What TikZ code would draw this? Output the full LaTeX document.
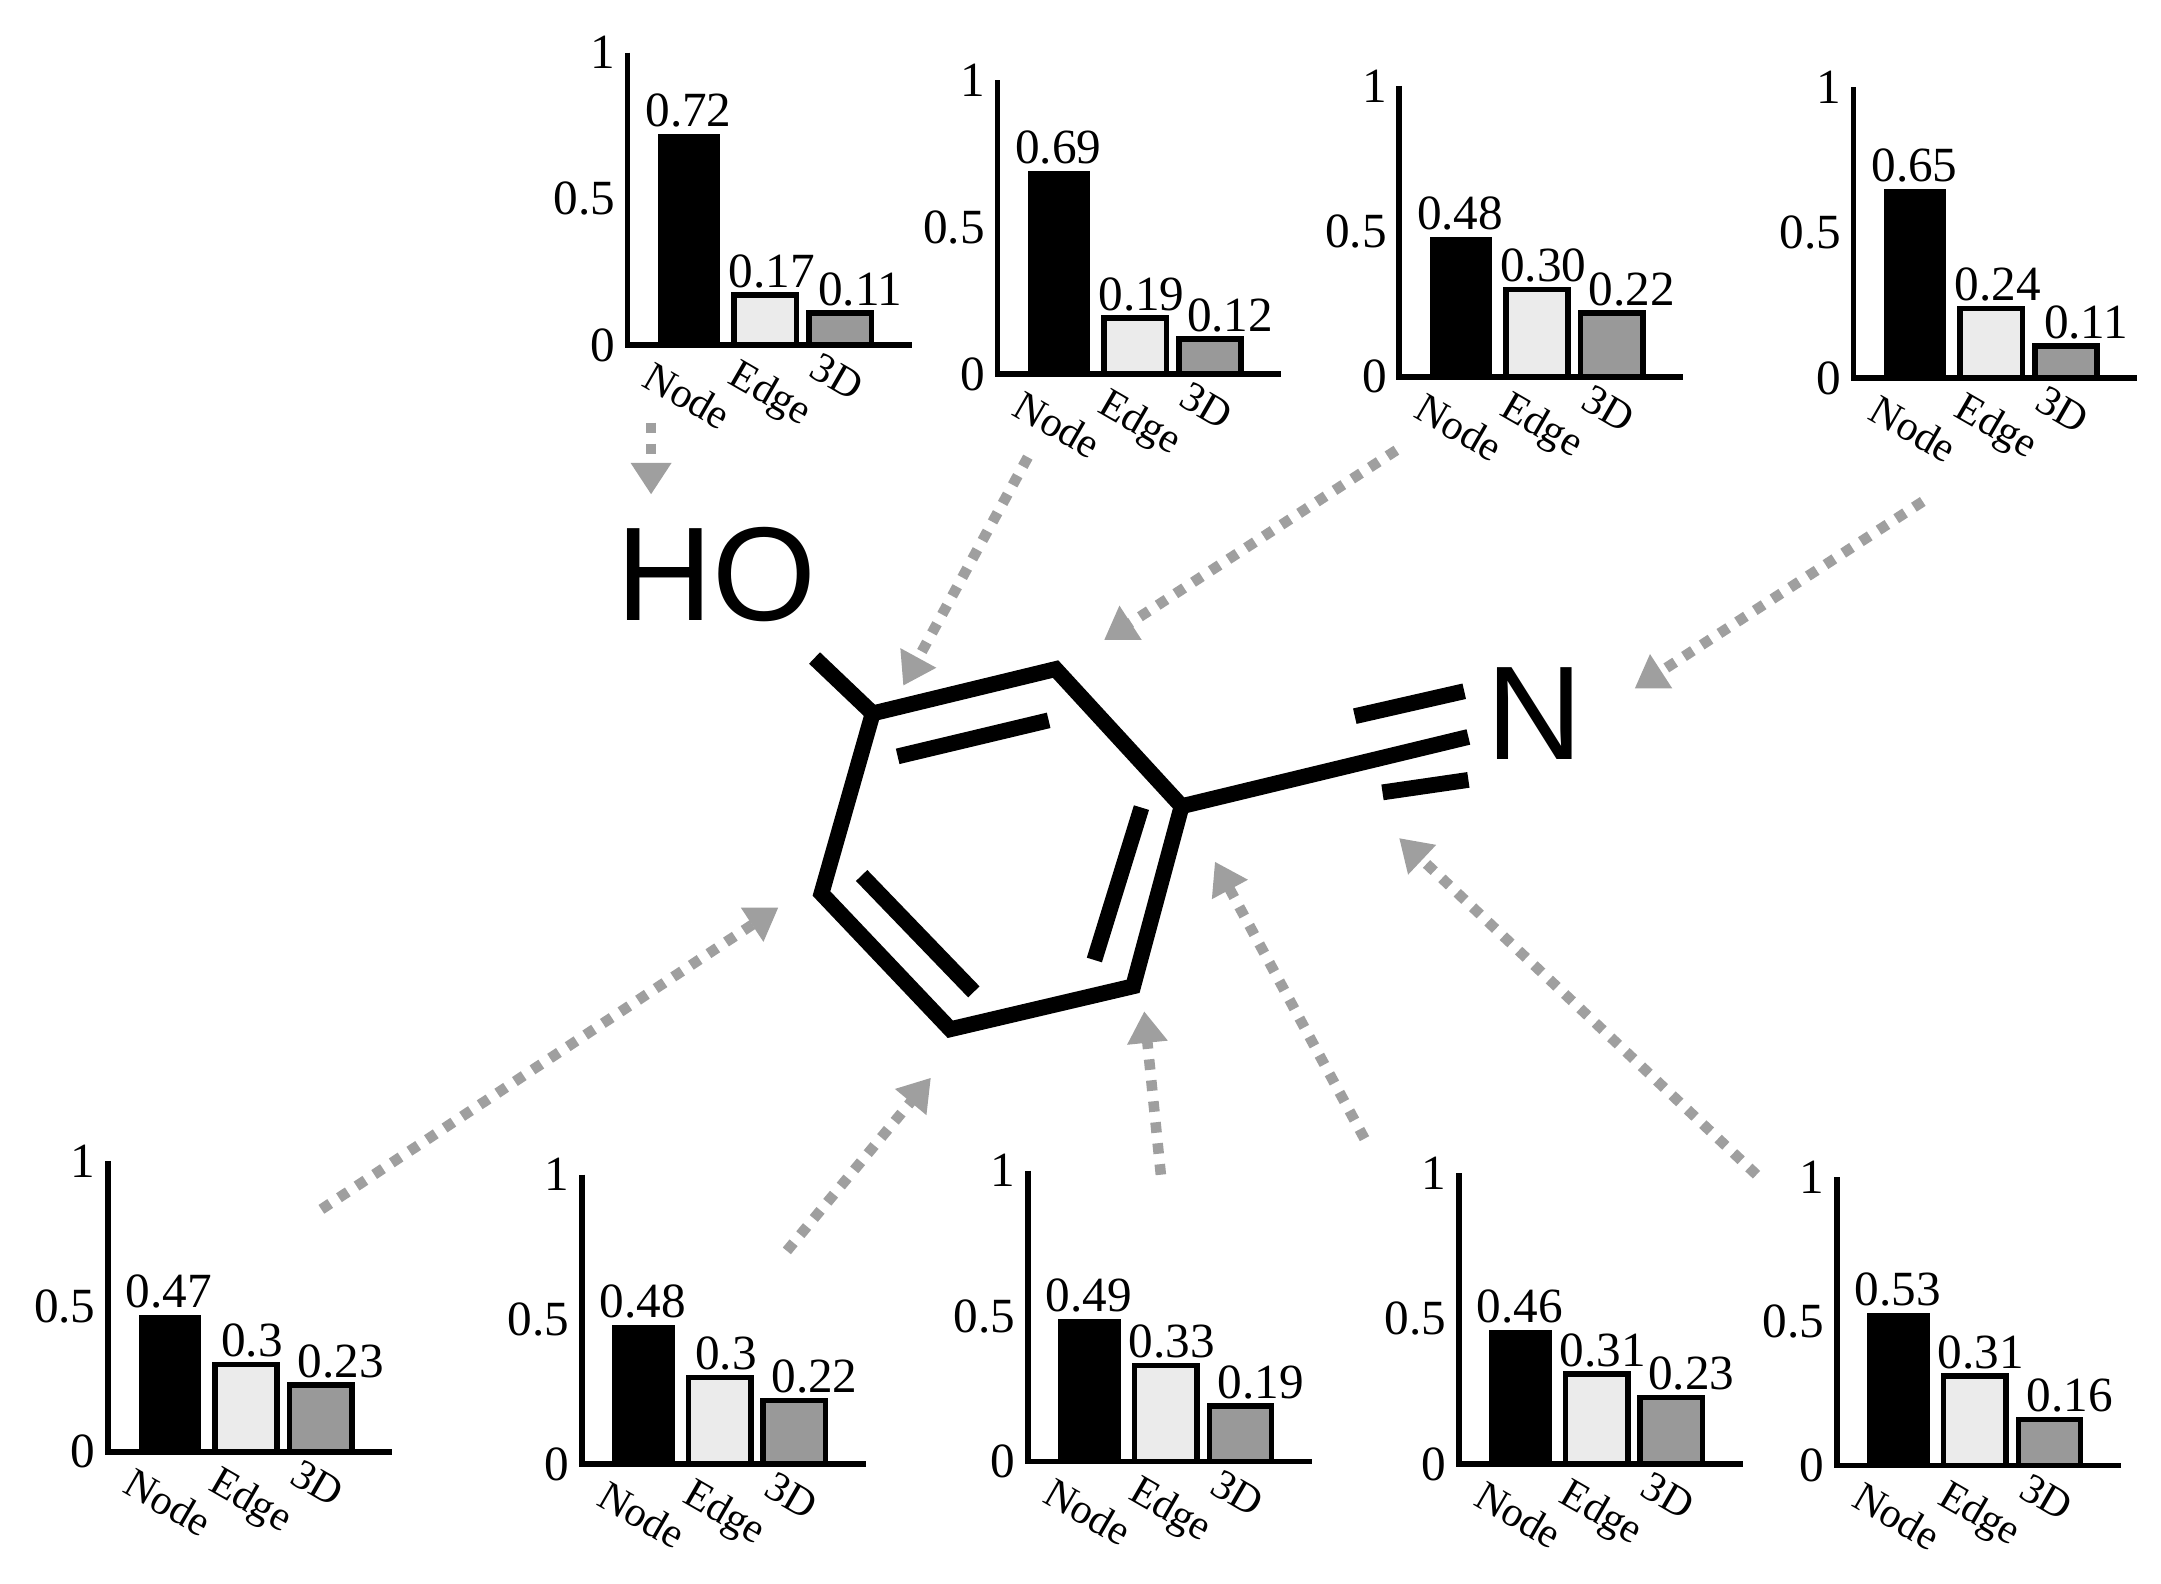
\documentclass[tikz,border=0pt]{standalone}
\usepackage{fontspec}
\setmainfont{Liberation Serif}
\newfontfamily\molfont{Liberation Sans}
\usetikzlibrary{arrows.meta}
\tikzset{
 bar/.style={draw=black,line width=1.6pt},
 ax/.style={line width=1.6pt},
 num/.style={font=\fontsize{14}{14}\selectfont,inner sep=1pt},
 cat/.style={font=\fontsize{12}{12}\selectfont,rotate=-30,anchor=north west,inner sep=0pt},
 bond/.style={line width=4.5pt},
 hint/.style={draw=gray!75,line width=3pt,dash pattern=on 3pt off 3pt,-{Triangle[length=9pt,width=11pt]}}
}
% ox oy h v1 v2 v3 name
\newcommand{\barchart}[7]{%
 \begin{scope}[shift={(#1,#2)}]
  \draw[ax] (0,-#3) -- (0,0) -- (205,0);
  \node[num,anchor=east] at (-6,-#3) {1};
  \node[num,anchor=east] at (-6,-#3/2) {0.5};
  \node[num,anchor=east] at (-6,0) {0};
  \fill[black] (22,0) rectangle (67,-#3*#4);
  \draw[bar,fill=black!8] (77,0) rectangle (122,-#3*#5);
  \draw[bar,fill=black!40] (131,0) rectangle (176,-#3*#6);
  \node[num,anchor=south] at (44,-#3*#4-2) {#4};
  \node[num,anchor=south] at (104,-#3*#5-2) {#5};
  \node[num,anchor=south] at (168,-#3*#6-2) {#6};
  \node[cat] (#7n) at (20,10) {Node};
  \node[cat] (#7e) at (82,8) {Edge};
  \node[cat] (#7d) at (140,4) {3D};
 \end{scope}}
\begin{document}
\begin{tikzpicture}[x=0.01385cm,y=-0.01385cm]
\useasboundingbox (0,0) rectangle (1560,1143);
\barchart{453}{249}{211}{0.72}{0.17}{0.11}{c1}
\barchart{720}{270}{212}{0.69}{0.19}{0.12}{c2}
\barchart{1010}{272}{210}{0.48}{0.30}{0.22}{c3}
\barchart{1338}{273}{210}{0.65}{0.24}{0.11}{c4}
\barchart{78}{1048}{210}{0.47}{0.3}{0.23}{c5}
\barchart{420}{1057}{209}{0.48}{0.3}{0.22}{c6}
\barchart{742}{1055}{210}{0.49}{0.33}{0.19}{c7}
\barchart{1053}{1057}{210}{0.46}{0.31}{0.23}{c8}
\barchart{1326}{1058}{208}{0.53}{0.31}{0.16}{c9}
% molecule
\coordinate (a1) at (630,515);
\coordinate (a2) at (762,483);
\coordinate (a3) at (853,582);
\coordinate (a4) at (818,712);
\coordinate (a5) at (686,743);
\coordinate (a6) at (593,645);
\draw[bond,line join=miter] (a1)--(a2)--(a3)--(a4)--(a5)--(a6)--cycle;
\draw[bond] (648,546)--(757,520);
\draw[bond] (824,583)--(790,693);
\draw[bond] (622,632)--(703,716);
\draw[bond] (a1)--(588,475);
\node[font=\molfont\fontsize{38}{38}\selectfont] (ho) at (517,415) {HO};
\node[font=\molfont\fontsize{38}{38}\selectfont] (n) at (1108,515) {N};
\draw[bond] (a3)--(1060,532);
\draw[bond] (978,517)--(1057,499);
\draw[bond] (998,572)--(1060,563);
% arrows
\coordinate (s1) at (470,305); \coordinate (t1) at (470,357);
\coordinate (s2) at (742,330); \coordinate (t2) at (652,495);
\coordinate (s3) at (1008,325); \coordinate (t3) at (797,462);
\coordinate (s4) at (1388,362); \coordinate (t4) at (1180,497);
\coordinate (s5) at (232,873); \coordinate (t5) at (562,655);
\coordinate (s6) at (568,903); \coordinate (t6) at (672,778);
\coordinate (s7) at (838,848); \coordinate (t7) at (826,730);
\coordinate (s8) at (985,822); \coordinate (t8) at (877,622);
\coordinate (s9) at (1268,848); \coordinate (t9) at (1010,605);
\foreach \i in {1,...,9} \draw[hint] (s\i) -- (t\i);
\end{tikzpicture}
\end{document}
